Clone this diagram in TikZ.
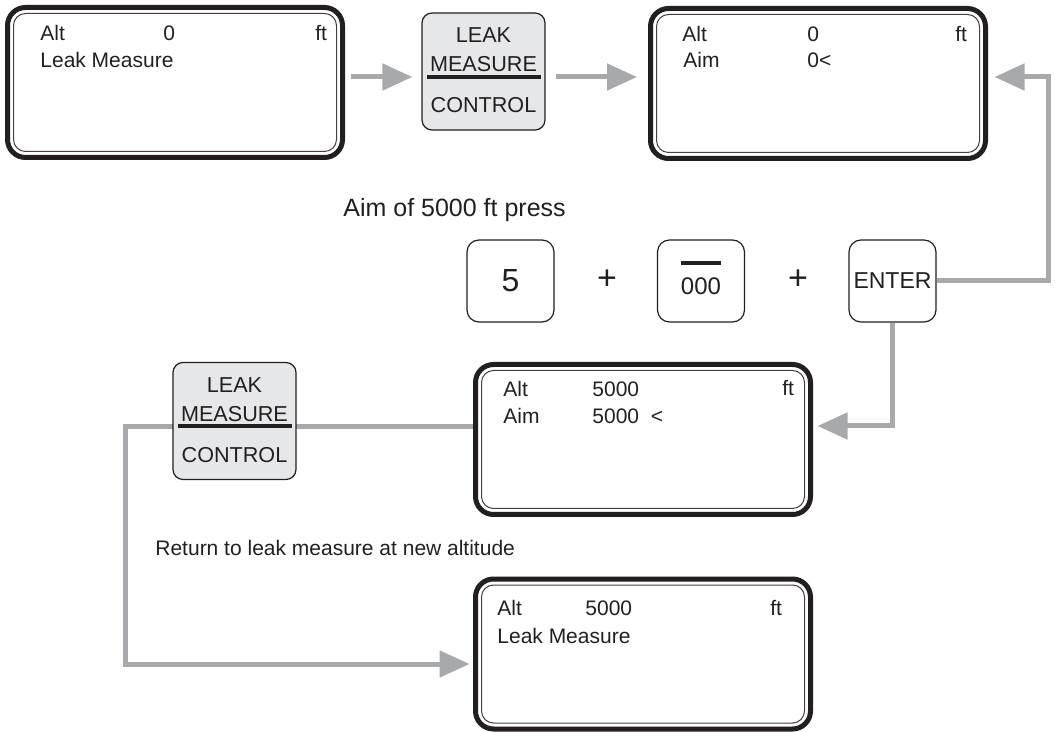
\documentclass[tikz,border=0pt]{standalone}
\usepackage{fontspec}
\setmainfont{Liberation Sans}
\usepackage{xcolor}
\usetikzlibrary{arrows.meta}
\definecolor{arrowgray}{HTML}{A7A9AC}
\definecolor{btngray}{HTML}{E6E7E8}
\definecolor{inkblack}{HTML}{231F20}
\tikzset{
    btnbox/.style={draw=inkblack, line width=0.6pt, rounded corners=5pt, fill=btngray,
        minimum width=61.5pt, minimum height=58.5pt, inner sep=0pt},
    btntxt/.style={anchor=base, inner sep=0pt, text=inkblack, font=\fontsize{10.8}{12}\selectfont},
    pics/lmcbtn/.style={
    code = {
        \node[btnbox] (-box) at (0,0) {};
        \node[btntxt] (-top) at (0,-28.5) {LEAK};
        \node[btntxt] (-mid) at (0,0.5) {MEASURE};
        \node[btntxt] (-bot) at (0,41.5) {CONTROL};
        \coordinate (-bar) at (0,5.5);
        \draw[line width=2pt, inkblack] (-57,5.5) -- (57,5.5);
    }}
}
\begin{document}
\begin{tikzpicture}[x=0.5pt,y=-0.5pt,
    scr/.style={draw=inkblack, line width=2.5pt, rounded corners=9pt,
        minimum width=167.5pt, minimum height=75pt, inner sep=0pt},
    scrin/.style={draw=inkblack!85, line width=0.5pt, rounded corners=6pt,
        minimum width=161.5pt, minimum height=69pt, inner sep=0pt},
    lcd/.style={anchor=base west, inner sep=0pt, text=inkblack, font=\fontsize{10.5}{12}\selectfont},
    key/.style={draw=inkblack, line width=0.6pt, rounded corners=6pt, fill=white,
        minimum width=43.5pt, minimum height=41pt, inner sep=0pt, text=inkblack},
    flow/.style={draw=arrowgray, line width=2.5pt, -{Triangle[length=15pt,width=13pt]}},
    note/.style={anchor=base west, inner sep=0pt, text=inkblack}]
    \useasboundingbox (0,0) rectangle (1055,732);

    % displays
    \node[scr] (s1) at (175,82.5) {};
    \node[scrin] (s1in) at (s1.center) {};
    \node[lcd] (s1alt) at (40,41) {Alt};
    \node[lcd] (s1val) at (163,41) {0};
    \node[lcd] (s1ft) at (315,41) {ft};
    \node[lcd] (s1row) at (40,68) {Leak Measure};

    \node[scr] (s2) at (818,83.5) {};
    \node[scrin] (s2in) at (s2.center) {};
    \node[lcd] (s2alt) at (682,42) {Alt};
    \node[lcd] (s2val) at (807,42) {0};
    \node[lcd] (s2ft) at (955,42) {ft};
    \node[lcd] (s2aim) at (683,68) {Aim};
    \node[lcd] (s2set) at (807,68) {0<};

    \node[scr] (mid) at (643,439.5) {};
    \node[scrin] (midin) at (mid.center) {};
    \node[lcd] (midalt) at (503,397) {Alt};
    \node[lcd] (midval) at (592,397) {5000};
    \node[lcd] (midft) at (782,396) {ft};
    \node[lcd] (midaim) at (503,424) {Aim};
    \node[lcd] (midset) at (592,424) {5000~~<};

    \node[scr] (bot) at (643,654) {};
    \node[scrin] (botin) at (bot.center) {};
    \node[lcd] (botalt) at (497,615) {Alt};
    \node[lcd] (botval) at (585,615) {5000};
    \node[lcd] (botft) at (770,615) {ft};
    \node[lcd] (botrow) at (497,643) {Leak Measure};

    % keypad
    \node[note, font=\fontsize{12.5}{14}\selectfont] (aimtxt) at (343,217) {Aim of 5000 ft press};
    \node[key, font=\fontsize{16}{18}\selectfont] (k5) at (510.5,281) {5};
    \node[text=inkblack, font=\fontsize{17}{18}\selectfont] (plus1) at (607,280) {+};
    \node[key] (k000) at (701,281) {};
    \node[anchor=base, inner sep=0pt, text=inkblack, font=\fontsize{12}{14}\selectfont] (k000txt) at (701,295) {000};
    \draw[line width=2pt, inkblack] (681,263) -- (721,263);
    \node[text=inkblack, font=\fontsize{17}{18}\selectfont] (plus2) at (798,280) {+};
    \node[key, font=\fontsize{11.5}{13}\selectfont] (kent) at (892.5,281) {ENTER};

    % connectors
    \pic (b1) at (483.5,71.5) {lmcbtn};
    \draw[flow, shorten <=3pt, shorten >=4.5pt] (s1.east |- b1-bar) -- (b1-box.west |- b1-bar);
    \draw[flow, shorten <=5pt, shorten >=5.5pt] (b1-box.east |- b1-bar) -- (s2.west |- b1-bar);

    \coordinate (rtn) at (1048,77);
    \draw[flow, shorten >=3.25pt] (kent.east) -| (rtn) -- (s2.east |- rtn);

    \coordinate (drop) at (893,426);
    \draw[flow, shorten >=2.25pt] (kent.south) |- (mid.east |- drop);

    \coordinate (lp0) at (473,427);
    \coordinate (lp1) at (125,427);
    \coordinate (lp2) at (125,664);
    \draw[flow, shorten >=1.75pt] (mid.west |- lp0) -- (lp1) -- (lp2) -- (bot.west |- lp2);
    \pic (b2) at (234.5,421) {lmcbtn};

    \node[note, font=\fontsize{10.5}{12}\selectfont] (rettxt) at (155,555) {Return to leak measure at new altitude};
\end{tikzpicture}
\end{document}
